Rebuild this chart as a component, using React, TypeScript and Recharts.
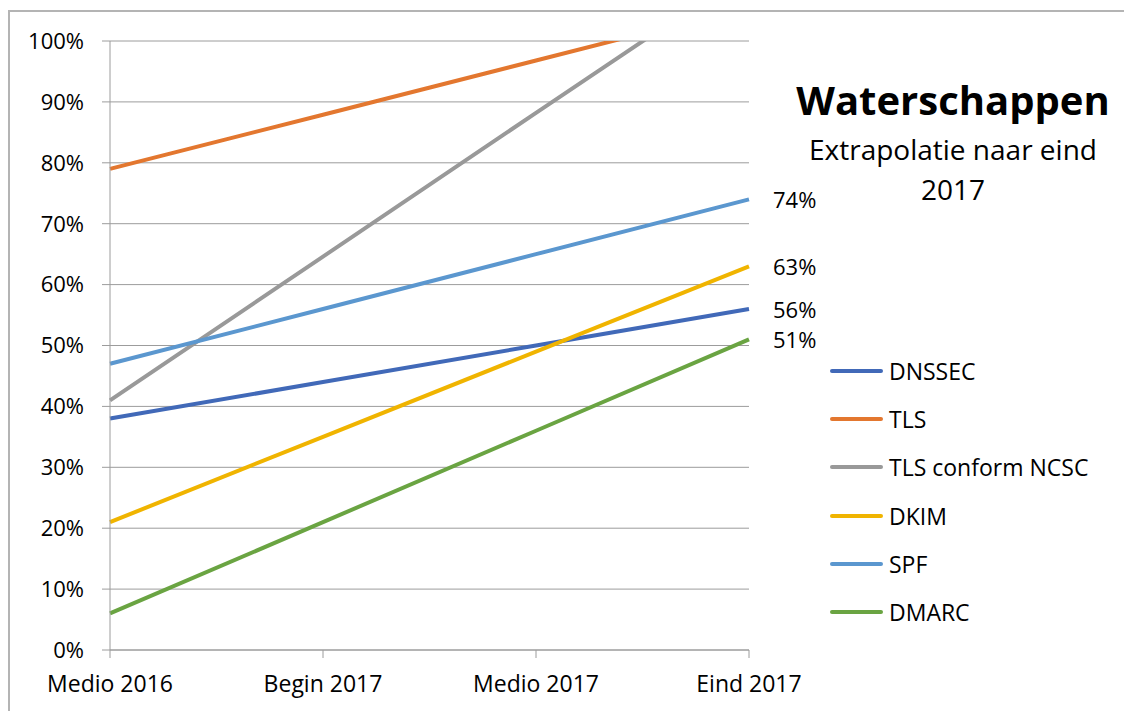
import { CartesianGrid, LabelList, Line, LineChart, XAxis, YAxis } from "recharts";

const categories = ["Medio 2016", "Begin 2017", "Medio 2017", "Eind 2017"];
const dnssec = [38, 44, 50, 56];
const tls = [79, 87.9, 96.8, 105.7];
const tlsNcsc = [41, 64.6, 88.2, 111.7];
const dkim = [21, 35, 49, 63];
const spf = [47, 56, 65, 74];
const dmarc = [6, 21, 36, 51];
const yTicks = [0, 10, 20, 30, 40, 50, 60, 70, 80, 90, 100];

const FONT = "'Open Sans', sans-serif";
const GRID = "#9c9c9c";

const series = [
  { key: "dnssec", name: "DNSSEC", color: "#4169b8", values: dnssec, endLabel: true },
  { key: "tls", name: "TLS", color: "#e3772f", values: tls, endLabel: false },
  { key: "tlsNcsc", name: "TLS conform NCSC", color: "#999999", values: tlsNcsc, endLabel: false },
  { key: "dkim", name: "DKIM", color: "#f0b400", values: dkim, endLabel: true },
  { key: "spf", name: "SPF", color: "#5b97cf", values: spf, endLabel: true },
  { key: "dmarc", name: "DMARC", color: "#6aa442", values: dmarc, endLabel: true },
];

const data = categories.map((cat, i) => {
  const row: Record<string, any> = { cat };
  series.forEach((s) => (row[s.key] = s.values[i]));
  return row;
});

const EndLabel = (props: any) => {
  const { x, y, index, value } = props;
  if (index !== categories.length - 1) return null;
  return (
    <text x={x + 24} y={y} dominantBaseline="central" fontSize={22} fontFamily={FONT} fill="#000">
      {`${Math.round(value)}%`}
    </text>
  );
};

// legend drawn beside the chart so it doesn't eat into the plot area
const LegendBox = () => (
  <div style={{ position: "absolute", left: 830, top: 347, fontFamily: FONT, fontSize: 23, color: "#000" }}>
    {series.map((s) => (
      <div key={s.key} style={{ display: "flex", alignItems: "center", height: 48.2 }}>
        <div style={{ width: 53, height: 4, background: s.color, borderRadius: 2, marginRight: 6 }} />
        <span>{s.name}</span>
      </div>
    ))}
  </div>
);

export default function App() {
  return (
    <div style={{ position: "fixed", left: 0, top: 0, width: 1124, height: 711, overflow: "hidden", background: "#fff" }}>
      <div
        style={{
          position: "absolute",
          left: 8,
          top: 10,
          width: 1300,
          height: 900,
          border: "2px solid #b4b4b4",
        }}
      />
      <LineChart
        width={1124}
        height={711}
        data={data}
        margin={{ top: 41, right: 375, bottom: 0, left: 8 }}
        style={{ position: "absolute", left: 0, top: 0 }}
      >
        <CartesianGrid vertical={false} stroke={GRID} strokeWidth={1} />
        <XAxis
          dataKey="cat"
          height={61}
          stroke={GRID}
          tickSize={8}
          tickMargin={18}
          tick={{ fontSize: 23, fontFamily: FONT, fill: "#000" }}
          interval={0}
        />
        <YAxis
          width={102}
          domain={[0, 100]}
          ticks={yTicks}
          allowDataOverflow
          stroke={GRID}
          tickSize={8}
          tickMargin={18}
          tickFormatter={(v) => `${v}%`}
          tick={{ fontSize: 22, fontFamily: FONT, fill: "#000" }}
        />
        {series.map((s) => (
          <Line
            key={s.key}
            dataKey={s.key}
            name={s.name}
            type="linear"
            stroke={s.color}
            strokeWidth={4}
            dot={false}
            activeDot={false}
            isAnimationActive={false}
          >
            {s.endLabel && <LabelList dataKey={s.key} content={EndLabel} />}
          </Line>
        ))}
      </LineChart>
      <LegendBox />
      <div
        style={{
          position: "absolute",
          left: 783,
          top: 80,
          width: 340,
          textAlign: "center",
          fontFamily: FONT,
          fontWeight: 700,
          fontSize: 40,
          lineHeight: 1,
          color: "#000",
        }}
      >
        Waterschappen
      </div>
      <div
        style={{
          position: "absolute",
          left: 783,
          top: 129,
          width: 340,
          textAlign: "center",
          fontFamily: FONT,
          fontSize: 28,
          lineHeight: "40px",
          color: "#000",
        }}
      >
        Extrapolatie naar eind
        <br />
        2017
      </div>
    </div>
  );
}
